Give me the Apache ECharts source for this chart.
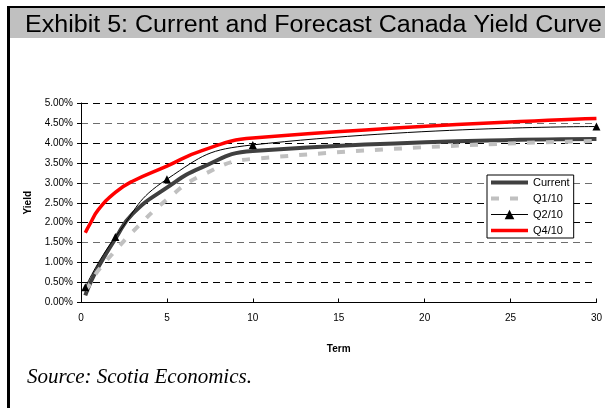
<!DOCTYPE html>
<html>
<head>
<meta charset="utf-8">
<script src="https://cdn.jsdelivr.net/npm/echarts@6/dist/echarts.min.js"></script>
<style>
  html, body { margin: 0; padding: 0; background: #fff; }
  #chart { width: 605px; height: 408px; }
</style>
</head>
<body>
<div id="chart"></div>
<script>
// Government of Canada yield curve, term in years, yield in percent
const terms = [0.25, 0.5, 1, 2, 3, 5, 7, 10, 30];
const current = [0.18, 0.45, 0.88, 1.6, 2.22, 2.88, 3.38, 3.8, 4.1];
const q1_10 = [0.3, 0.45, 0.8, 1.3, 1.77, 2.58, 3.18, 3.6, 4.05];
const q4_10 = [1.75, 1.95, 2.32, 2.76, 3.04, 3.42, 3.8, 4.12, 4.61];
const q2Terms = [0.25, 2, 5, 10, 30];
const q2_10 = [0.38, 1.64, 3.09, 3.95, 4.41];

const termTicks = [0, 5, 10, 15, 20, 25, 30];
const yieldTicks = [0, 0.5, 1, 1.5, 2, 2.5, 3, 3.5, 4, 4.5, 5];

const titleText = 'Exhibit 5: Current and Forecast Canada Yield Curve';
const sourceText = 'Source: Scotia Economics.';

const pair = (xs, ys) => xs.map((x, i) => [x, ys[i]]);

// squeeze the heading into a narrow face
const titleFont = '23px "Liberation Sans", Arial, sans-serif';
const ctx = document.createElement('canvas').getContext('2d');
ctx.font = titleFont;
const titleScale = 577 / ctx.measureText(titleText).width;

const labelFont = { fontFamily: 'Liberation Sans, Arial', fontSize: 10, color: '#000' };

// line styles shared by the plotted series and their key swatches
const styleCurrent = { color: '#404040', width: 4 };
const styleQ1 = { color: '#c0c0c0', width: 4, type: [8, 11] };
const styleQ2 = { color: '#000000', width: 1 };
const styleQ4 = { color: '#ff0000', width: 3.5 };
const noMarker = { opacity: 0 };

const chart = echarts.init(document.getElementById('chart'), null, { renderer: 'canvas' });

chart.setOption({
  animation: false,
  backgroundColor: '#ffffff',
  grid: { left: 81, right: 3.5, top: 103, bottom: 105.5, containLabel: false },
  xAxis: {
    type: 'value',
    min: termTicks[0],
    max: termTicks[termTicks.length - 1],
    interval: 5,
    name: 'Term',
    nameLocation: 'middle',
    nameGap: 42,
    nameTextStyle: Object.assign({ fontWeight: 'bold' }, labelFont),
    axisLine: { lineStyle: { color: '#000', width: 1 } },
    axisTick: { inside: true, length: 4, lineStyle: { color: '#000' } },
    axisLabel: Object.assign({ margin: 11 }, labelFont),
    splitLine: { show: false }
  },
  yAxis: {
    type: 'value',
    min: yieldTicks[0],
    max: yieldTicks[yieldTicks.length - 1],
    interval: 0.5,
    name: 'Yield',
    nameLocation: 'middle',
    nameGap: 41,
    nameTextStyle: Object.assign({ fontWeight: 'bold' }, labelFont),
    axisLine: { show: true, lineStyle: { color: '#000', width: 1 } },
    axisTick: { show: true, inside: false, length: 4, lineStyle: { color: '#000' } },
    axisLabel: Object.assign({ margin: 8, formatter: v => v.toFixed(2) + '%' }, labelFont),
    splitLine: {
      show: true,
      lineStyle: { color: ['#6e6e6e', '#000000', '#000000'], width: 1, type: [7, 5] }
    }
  },
  legend: {
    orient: 'vertical',
    left: 487,
    top: 175,
    padding: [2, 4, 2, 2],
    itemWidth: 37,
    itemHeight: 12,
    itemGap: 5,
    backgroundColor: '#fff',
    borderColor: '#000',
    borderWidth: 1,
    textStyle: { fontFamily: 'Liberation Sans, Arial', fontSize: 11, color: '#000' },
    data: [
      { name: 'Current', itemStyle: noMarker, lineStyle: styleCurrent },
      { name: 'Q1/10', itemStyle: noMarker, lineStyle: styleQ1 },
      { name: 'Q2/10', lineStyle: styleQ2 },
      { name: 'Q4/10', itemStyle: noMarker, lineStyle: styleQ4 }
    ]
  },
  series: [
    {
      name: 'Current', type: 'line', smooth: true, symbol: 'none',
      lineStyle: styleCurrent,
      itemStyle: { color: styleCurrent.color },
      data: pair(terms, current)
    },
    {
      name: 'Q1/10', type: 'line', smooth: true, symbol: 'none',
      lineStyle: styleQ1,
      itemStyle: { color: styleQ1.color },
      data: pair(terms, q1_10)
    },
    {
      name: 'Q2/10', type: 'line', smooth: true, symbol: 'triangle', symbolSize: 8,
      lineStyle: styleQ2,
      itemStyle: { color: styleQ2.color },
      data: pair(q2Terms, q2_10)
    },
    {
      name: 'Q4/10', type: 'line', smooth: true, symbol: 'none',
      lineStyle: styleQ4,
      itemStyle: { color: styleQ4.color },
      data: pair(terms, q4_10)
    }
  ],
  graphic: [
    { type: 'rect', left: 7, top: 6, shape: { width: 3, height: 402 }, style: { fill: '#000' }, silent: true },
    { type: 'rect', left: 7, top: 6, shape: { width: 598, height: 2 }, style: { fill: '#000' }, silent: true },
    { type: 'rect', left: 10, top: 8, shape: { width: 595, height: 30 }, style: { fill: '#c0c0c0' }, silent: true },
    {
      type: 'text', x: 25, y: 26, scaleX: titleScale, silent: true,
      style: { text: titleText, font: titleFont, fill: '#000', verticalAlign: 'middle' }
    },
    {
      type: 'text', x: 27, y: 377, silent: true,
      style: { text: sourceText, font: 'italic 21px "Liberation Serif", "Times New Roman", serif', fill: '#000', verticalAlign: 'middle' }
    }
  ]
});
</script>
</body>
</html>
